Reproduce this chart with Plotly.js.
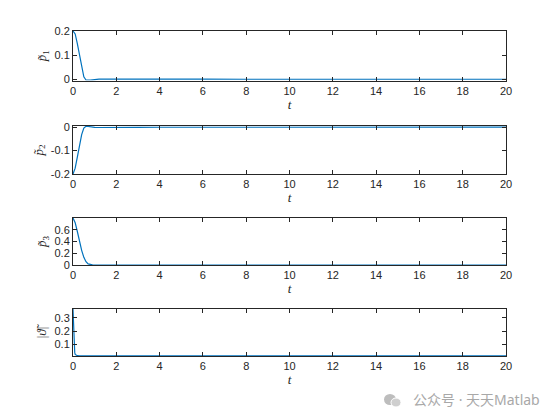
<!DOCTYPE html>
<html>
<head>
<meta charset="utf-8">
<script src="https://cdn.plot.ly/plotly-3.0.1.min.js"></script>
<style>html,body{margin:0;padding:0;background:#fff;}#chart{width:560px;height:420px;}</style>
</head>
<body>
<div id="chart"></div>
<script>
// time samples
const t = [0, 0.1, 0.2, 0.3, 0.4, 0.5, 0.6, 0.7, 0.8, 0.9, 1.0, 1.2, 1.5, 2, 3, 4, 6, 8, 10, 12, 14, 16, 18, 20];
// p1 tilde
const p1 = [0.2, 0.188, 0.148, 0.098, 0.048, 0.010, -0.003, -0.004, -0.003, -0.002, -0.001, 0.0005, 0.001, 0.0012, 0.0008, 0.0005, 0.0003, 0.0002, 0.0002, 0.0001, 0.0001, 0.0001, 0.0001, 0.0001];
// p2 tilde
const p2 = [-0.2, -0.175, -0.128, -0.078, -0.032, -0.004, 0.004, 0.003, 0.001, -0.0005, -0.001, -0.0015, -0.001, -0.0008, -0.0006, -0.0004, -0.0003, -0.0002, -0.0002, -0.0001, -0.0001, -0.0001, -0.0001, -0.0001];
// p3 tilde
const p3 = [0.8, 0.72, 0.57, 0.40, 0.25, 0.13, 0.055, 0.018, 0.004, 0.001, 0, 0, 0, 0, 0, 0, 0, 0, 0, 0, 0, 0, 0, 0];
// |theta tilde|
const t4 = [0, 0.02, 0.04, 0.06, 0.08, 0.1, 0.15, 0.2, 0.3, 0.5, 1, 2, 5, 10, 15, 20];
const th = [0.365, 0.26, 0.15, 0.075, 0.04, 0.025, 0.017, 0.0155, 0.015, 0.015, 0.015, 0.015, 0.015, 0.015, 0.015, 0.015];

const xTicks = [0, 2, 4, 6, 8, 10, 12, 14, 16, 18, 20];
const yTicks1 = [0, 0.1, 0.2];
const yTicks2 = [-0.2, -0.1, 0];
const yTicks3 = [0, 0.2, 0.4, 0.6];
const yTicks4 = [0.1, 0.2, 0.3];
const yLabels = ['<i>p̃</i><sub>1</sub>', '<i>p̃</i><sub>2</sub>', '<i>p̃</i><sub>3</sub>', '|<i>ϑ̃</i>|'];

const W = 560, H = 420;
const xd = [73 / W, 506 / W];
const boxes = [[31, 80.5], [126, 174], [218, 265], [309, 356]];
const yRanges = [[-0.005, 0.2], [-0.2, 0.005], [0, 0.8], [0.013, 0.365]];
const yTickSets = [yTicks1, yTicks2, yTicks3, yTicks4];

const color = '#0072BD';
const data = [
  {x: t, y: p1, xaxis: 'x', yaxis: 'y'},
  {x: t, y: p2, xaxis: 'x2', yaxis: 'y2'},
  {x: t, y: p3, xaxis: 'x3', yaxis: 'y3'},
  {x: t4, y: th, xaxis: 'x4', yaxis: 'y4'}
].map(d => Object.assign(d, {type: 'scatter', mode: 'lines', line: {color: color, width: 1.2}, showlegend: false, hoverinfo: 'skip'}));

const tickFont = {family: 'Liberation Sans, Arial, sans-serif', size: 11, color: '#262626'};
const layout = {
  width: W, height: H,
  margin: {l: 0, r: 0, t: 0, b: 0},
  paper_bgcolor: '#fff', plot_bgcolor: '#fff',
  showlegend: false,
  annotations: [
    {xref: 'paper', yref: 'paper', x: 542 / W, y: 1 - 399 / H, xanchor: 'right', yanchor: 'middle',
     text: '公众号 · 天天Matlab', showarrow: false,
     font: {family: 'Noto Sans, Noto Sans CJK SC, sans-serif', size: 14, color: '#a8a8a8'}}
  ],
  shapes: [
    {type: 'circle', xref: 'paper', yref: 'paper', x0: 384 / W, x1: 396 / W, y0: 1 - 405 / H, y1: 1 - 394 / H, fillcolor: '#bdbdbd', line: {width: 0}},
    {type: 'circle', xref: 'paper', yref: 'paper', x0: 391 / W, x1: 401 / W, y0: 1 - 407 / H, y1: 1 - 398 / H, fillcolor: '#cfcfcf', line: {color: '#fff', width: 1}}
  ]
};

for (let i = 0; i < 4; i++) {
  const s = i === 0 ? '' : String(i + 1);
  const [top, bot] = boxes[i];
  layout['xaxis' + s] = {
    domain: xd, anchor: 'y' + s, range: [0, 20],
    tickvals: xTicks, ticktext: xTicks.map(String),
    ticks: 'inside', ticklen: 4, tickcolor: '#262626', tickwidth: 1,
    showline: true, linecolor: '#262626', linewidth: 1, mirror: 'ticks',
    showgrid: false, zeroline: false, tickfont: tickFont,
    title: {text: '<i>t</i>', font: {family: 'Liberation Serif, Times New Roman, serif', size: 13, color: '#262626'}, standoff: 2}
  };
  layout['yaxis' + s] = {
    domain: [1 - bot / H, 1 - top / H], anchor: 'x' + s, range: yRanges[i],
    tickvals: yTickSets[i], ticktext: yTickSets[i].map(String),
    ticks: 'inside', ticklen: 4, tickcolor: '#262626', tickwidth: 1,
    showline: true, linecolor: '#262626', linewidth: 1, mirror: 'ticks',
    showgrid: false, zeroline: false, tickfont: tickFont,
    title: {text: yLabels[i], font: {family: 'Liberation Serif, Times New Roman, serif', size: 13, color: '#262626'}, standoff: 4}
  };
}

Plotly.newPlot('chart', data, layout, {staticPlot: true, displayModeBar: false});
</script>
</body>
</html>
